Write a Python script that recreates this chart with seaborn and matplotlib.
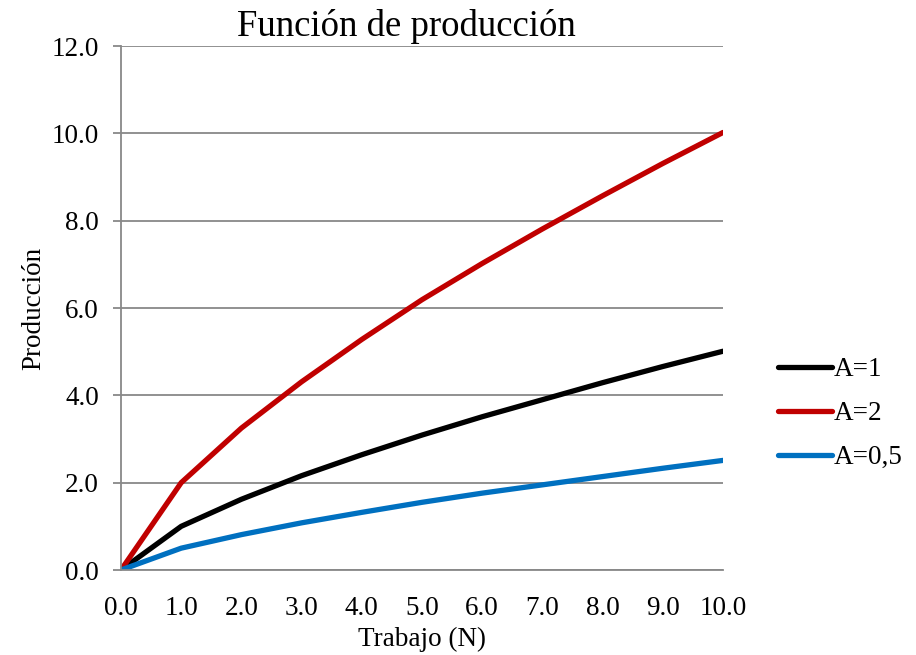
import matplotlib
matplotlib.use("Agg")
import matplotlib.pyplot as plt
import seaborn as sns
import pandas as pd

# Labour input (N) and output for three technology levels
trabajo = [0, 1, 2, 3, 4, 5, 6, 7, 8, 9, 10]
prod_a1 = [0.0, 1.0, 1.62, 2.16, 2.64, 3.09, 3.51, 3.90, 4.29, 4.66, 5.01]
prod_a2 = [0.0, 2.0, 3.25, 4.31, 5.28, 6.19, 7.02, 7.81, 8.57, 9.31, 10.02]
prod_a05 = [0.0, 0.5, 0.81, 1.08, 1.32, 1.55, 1.76, 1.95, 2.14, 2.33, 2.51]
series_names = ["A=1", "A=2", "A=0,5"]
colores = ["#000000", "#c00000", "#0070c0"]

df = pd.concat([
    pd.DataFrame({"N": trabajo, "Y": vals, "serie": name})
    for name, vals in zip(series_names, [prod_a1, prod_a2, prod_a05])
])

sns.set_style("white")
plt.rcParams["font.family"] = ["Liberation Serif", "DejaVu Serif"]
plt.rcParams["text.color"] = "black"
plt.rcParams["axes.labelcolor"] = "black"
plt.rcParams["xtick.color"] = "black"
plt.rcParams["ytick.color"] = "black"

fig = plt.figure(figsize=(9.16, 6.55), dpi=100)
ax = fig.add_axes([121 / 916, 1 - 570 / 655, (723 - 121) / 916, (570 - 46) / 655])

sns.lineplot(data=df, x="N", y="Y", hue="serie", hue_order=series_names,
             palette=colores, linewidth=3.8, ax=ax, legend=True,
             solid_capstyle="round")

ax.set_xlim(0, 10)
ax.set_ylim(0, 12)
ax.set_xticks(range(0, 11))
ax.set_xticklabels([f"{v:.1f}" for v in range(0, 11)])
ax.set_yticks(range(0, 13, 2))
ax.set_yticklabels([f"{v:.1f}" for v in range(0, 13, 2)])

ax.grid(axis="y", color="#888888", linewidth=1.3)
ax.set_axisbelow(True)
for side in ["top", "right"]:
    ax.spines[side].set_visible(False)
for side in ["left", "bottom"]:
    ax.spines[side].set_color("#888888")
    ax.spines[side].set_linewidth(1.3)

ax.tick_params(axis="y", which="both", direction="out", length=6, width=1.3,
               color="#888888", labelcolor="black", labelsize=19.5, pad=10,
               left=True)
ax.tick_params(axis="x", length=0, labelsize=19.5, labelcolor="black", pad=19)

ax.set_xlabel("Trabajo (N)", fontsize=19.5, labelpad=4)
ax.set_ylabel("Producción", fontsize=19.5, labelpad=4)

fig.text(406 / 916, 1 - 27 / 655, "Función de producción", fontsize=26.5,
         ha="center", va="center")

leg = ax.legend(loc="center left", bbox_to_anchor=(1.073, 0.298), frameon=False,
                fontsize=19.5, handlelength=2.0, handletextpad=0.05,
                labelspacing=0.7, borderaxespad=0)
for line in leg.get_lines():
    line.set_linewidth(3.8)
    line.set_solid_capstyle("round")

fig.savefig("out.png", dpi=100)
